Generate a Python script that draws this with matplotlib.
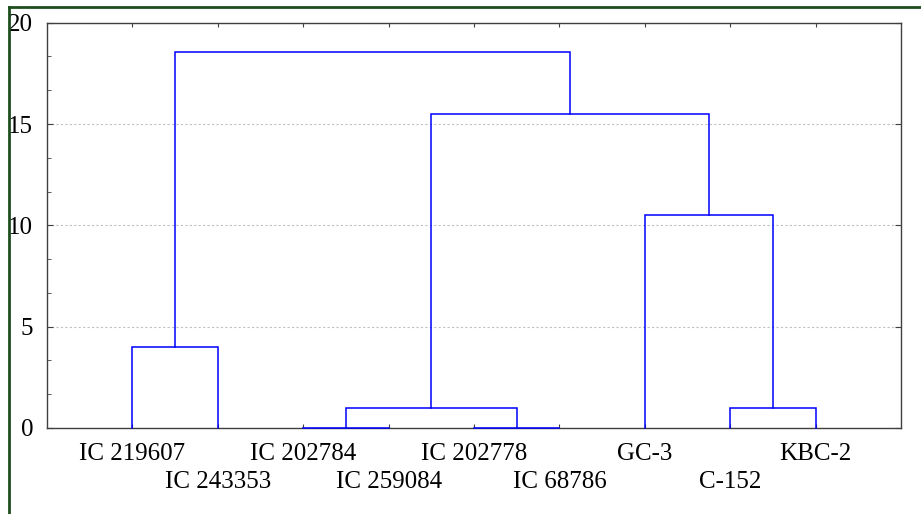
import matplotlib
matplotlib.use("Agg")
import matplotlib.pyplot as plt
from matplotlib.ticker import AutoMinorLocator
from matplotlib.lines import Line2D

# leaves in dendrogram order
leaves = ['IC 219607', 'IC 243353', 'IC 202784', 'IC 259084', 'IC 202778',
          'IC 68786', 'GC-3', 'C-152', 'KBC-2']

# merges: (left cluster, right cluster, linkage distance); new clusters get ids 9, 10, ...
merge_left = [0, 2, 4, 10, 7, 6, 12, 9]
merge_right = [1, 3, 5, 11, 8, 13, 14, 15]
merge_height = [4.0, 0.0, 0.0, 1.0, 1.0, 10.5, 15.5, 18.55]

yticks = [0, 5, 10, 15, 20]

plt.rcParams['font.family'] = ['Liberation Serif', 'DejaVu Serif']

fig = plt.figure(figsize=(9.21, 5.14), dpi=100)
ax = fig.add_axes([47 / 921, 1 - 428 / 514, (901 - 47) / 921, (428 - 22.7) / 514])

# leaf x positions 1..n, heights 0
xpos = {i: i + 1 for i in range(len(leaves))}
hgt = {i: 0.0 for i in range(len(leaves))}
n = len(leaves)
for k, (a, b, h) in enumerate(zip(merge_left, merge_right, merge_height)):
    xa, xb = xpos[a], xpos[b]
    ax.plot([xa, xa, xb, xb], [hgt[a], h, h, hgt[b]], color='#0000ff',
            lw=1.1, zorder=3, clip_on=False, solid_joinstyle='miter')
    xpos[n + k] = (xa + xb) / 2
    hgt[n + k] = h

ax.set_xlim(0, len(leaves) + 1)
ax.set_ylim(0, 20)

ax.set_yticks(yticks)
ax.set_yticklabels([str(v) for v in yticks])
ax.yaxis.set_minor_locator(AutoMinorLocator(3))
ax.set_xticks(range(1, len(leaves) + 1))
ax.set_xticklabels(leaves)

ax.tick_params(axis='both', which='both', direction='in', colors='#404040',
               labelcolor='black', labelsize=18)
ax.tick_params(axis='y', which='major', length=4, pad=10, right=True)
ax.tick_params(axis='y', which='minor', length=3, right=False)
ax.tick_params(axis='x', which='major', length=3, pad=11, top=True)

# alternate the leaf labels over two rows
for i, t in enumerate(ax.xaxis.get_major_ticks()):
    if i % 2 == 1:
        t.set_pad(11 + 28 * 0.72)

ax.grid(axis='y', which='major', color='#c0c0c0', linestyle=(0, (2, 2)), lw=0.8)
ax.set_axisbelow(True)

for s in ax.spines.values():
    s.set_color('#404040')
    s.set_linewidth(1.0)

# dark green frame lines at top and left of the picture
green = '#1e4d1e'
fig.add_artist(Line2D([8.5 / 921, 8.5 / 921], [0, 1 - 6.5 / 514], transform=fig.transFigure,
                      color=green, lw=2))
fig.add_artist(Line2D([8.5 / 921, 1], [1 - 6.5 / 514, 1 - 6.5 / 514], transform=fig.transFigure,
                      color=green, lw=2))

fig.savefig('out.png', dpi=100)
